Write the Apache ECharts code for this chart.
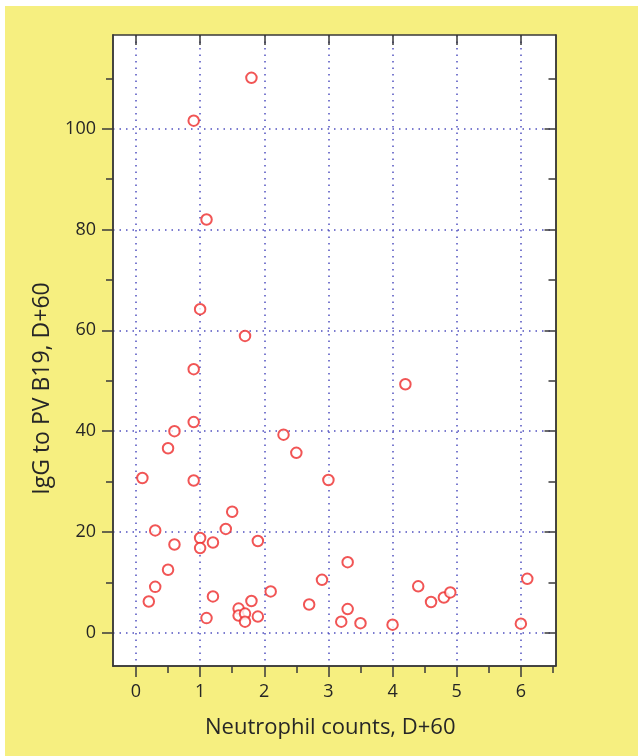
<!DOCTYPE html>
<html>
<head>
<meta charset="utf-8">
<script src="https://cdn.jsdelivr.net/npm/echarts@6/dist/echarts.min.js"></script>
<style>
html,body{margin:0;padding:0;background:#ffffff;}
#bg{position:absolute;left:5px;top:6px;width:633px;height:750px;background:#f6ef80;}
#chart{position:absolute;left:0;top:0;width:638px;height:756px;}
</style>
</head>
<body>
<div id="bg"></div>
<div id="chart"></div>
<script>
// Data
const neutrophil = [1.8, 0.9, 1.1, 1.0, 1.7, 0.9, 0.9, 0.6, 0.5, 2.3, 2.5, 4.2, 0.1, 0.9, 1.5, 0.3, 1.4, 1.0, 1.0, 1.2, 0.6, 1.9, 0.5, 0.3, 0.2, 1.2, 1.1, 2.1, 1.8, 1.6, 1.6, 1.7, 1.7, 1.9, 2.7, 2.9, 3.0, 3.3, 3.3, 3.2, 3.5, 4.0, 4.4, 4.6, 4.8, 4.9, 6.0, 6.1];
const igg = [110.1, 101.6, 82.0, 64.2, 58.9, 52.3, 41.8, 40.0, 36.6, 39.3, 35.7, 49.3, 30.7, 30.2, 24.0, 20.3, 20.6, 18.8, 16.8, 17.9, 17.5, 18.2, 12.5, 9.1, 6.2, 7.2, 2.9, 8.2, 6.3, 4.8, 3.4, 3.8, 2.2, 3.2, 5.6, 10.5, 30.3, 14.0, 4.7, 2.2, 1.9, 1.6, 9.2, 6.1, 7.0, 8.0, 1.8, 10.7];
const xMajor = [0, 1, 2, 3, 4, 5, 6];
const xMinor = [0.5, 1.5, 2.5, 3.5, 4.5, 5.5, 6.5];
const yMajor = [0, 20, 40, 60, 80, 100];
const yMinor = [10, 30, 50, 70, 90, 110];
const xName = 'Neutrophil counts, D+60';
const yName = 'IgG to PV B19, D+60';

const X_MIN = -0.358, X_MAX = 6.54, Y_MIN = -6.6, Y_MAX = 118.6;
const FONT = 'Open Sans';
const TXT = '#262626';
const FRAME = '#3a3a3a';
const GRIDC = '#5050c0';

function xAx(pos, ticks, len, inside, opts) {
  return Object.assign({
    type: 'value', position: pos, min: X_MIN, max: X_MAX,
    axisLine: {show: true, onZero: false, lineStyle: {color: FRAME, width: 1.5}},
    axisTick: {show: true, inside: inside, length: len, customValues: ticks, lineStyle: {color: FRAME, width: 1.5}},
    axisLabel: {show: false, customValues: ticks},
    splitLine: {show: false}
  }, opts || {});
}
function yAx(pos, ticks, len, inside, opts) {
  return Object.assign({
    type: 'value', position: pos, min: Y_MIN, max: Y_MAX,
    axisLine: {show: true, onZero: false, lineStyle: {color: FRAME, width: 1.5}},
    axisTick: {show: true, inside: inside, length: len, customValues: ticks, lineStyle: {color: FRAME, width: 1.5}},
    axisLabel: {show: false, customValues: ticks},
    splitLine: {show: false}
  }, opts || {});
}

const chart = echarts.init(document.getElementById('chart'));
chart.setOption({
  backgroundColor: 'transparent',
  animation: false,
  grid: {left: 113, right: 82.5, top: 35, bottom: 90, backgroundColor: '#ffffff', show: true, borderWidth: 0},
  xAxis: [
    xAx('bottom', xMajor, 11, false, {
      axisLabel: {show: true, customValues: xMajor, margin: 17, fontFamily: FONT, fontSize: 18, color: TXT},
      splitLine: {show: true, lineStyle: {color: GRIDC, width: 1.5, type: [1.5, 5]}},
      name: xName, nameLocation: 'middle', nameGap: 51,
      nameTextStyle: {fontFamily: FONT, fontSize: 22, color: TXT, padding: [0, 8, 0, 0]}
    }),
    xAx('bottom', xMinor, 7, false),
    xAx('top', xMajor, 10, true),
  ],
  yAxis: [
    yAx('left', yMajor, 11, false, {
      axisLabel: {show: true, customValues: yMajor, margin: 17, fontFamily: FONT, fontSize: 18, color: TXT},
      splitLine: {show: true, lineStyle: {color: GRIDC, width: 1.5, type: [1.5, 5]}},
      name: yName, nameLocation: 'middle', nameGap: 58,
      nameTextStyle: {fontFamily: FONT, fontSize: 23, color: TXT, padding: [0, 76, 0, 0]}
    }),
    yAx('left', yMinor, 7, false),
    yAx('right', yMajor, 11, true),
    yAx('right', yMinor, 7, true),
  ],
  series: [{
    type: 'scatter',
    xAxisIndex: 0, yAxisIndex: 0,
    data: neutrophil.map((v, i) => [v, igg[i]]),
    symbol: 'emptyCircle',
    symbolSize: 10.5,
    itemStyle: {color: '#ee2a2a', borderWidth: 1.3},
    z: 5
  }]
});
</script>
</body>
</html>
